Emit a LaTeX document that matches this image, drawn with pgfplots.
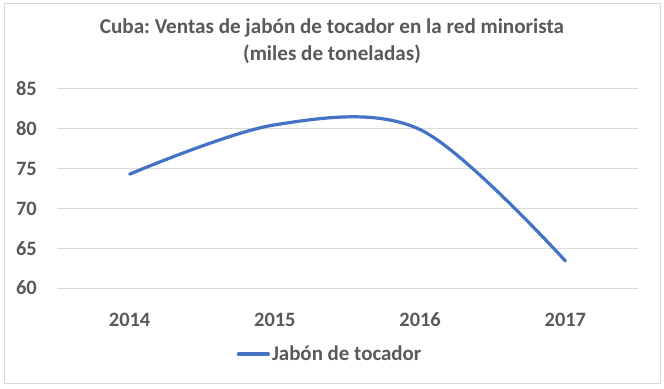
\documentclass[border=0pt]{standalone}
\usepackage{pgfplots}
\pgfplotsset{compat=1.18}
\usepackage{fontspec}
\setmainfont{Carlito}
\frenchspacing
\definecolor{txt}{HTML}{595959}
\definecolor{ser}{HTML}{4472C4}
\definecolor{gridc}{HTML}{D9D9D9}
\begin{document}
\begin{tikzpicture}
\path[use as bounding box] (0bp,0bp) rectangle (664bp,389bp);
\draw[gridc, line width=0.75bp] (4bp,6bp) rectangle (660bp,386bp);
\node[font=\fontsize{21.2}{27}\selectfont\bfseries, text=txt, align=center] at (332bp,347.5bp)
  {Cuba: Ventas de jabón de tocador en la red minorista\\(miles de toneladas)};
\begin{axis}[
  at={(57bp,101bp)}, anchor=south west,
  scale only axis, width=581bp, height=199bp,
  xmin=-0.5, xmax=3.5, ymin=60, ymax=85,
  ytick={60,65,...,85},
  xtick={0,1,2,3}, xticklabels={2014,2015,2016,2017},
  axis line style={draw=none},
  tick style={draw=none},
  ymajorgrids, grid style={gridc, line width=1bp},
  /pgf/number format/assume math mode=true,
  ticklabel style={font=\fontsize{20.5}{22}\selectfont\bfseries, text=txt, inner sep=0pt},
  xticklabel style={anchor=center, yshift=-32bp},
  yticklabel style={anchor=east, xshift=-20bp},
  legend style={at={(0.47,-0.332)}, anchor=center, draw=none, fill=none,
    font=\fontsize{21}{22}\selectfont\bfseries, text=txt},
  legend image code/.code={\draw[#1, line cap=round] (0bp,0bp) -- (30bp,0bp);},
]
\addplot[ser, line width=3.2bp, smooth, tension=0.55, line cap=round] coordinates {
  (0,74.3) (1,80.5) (2,79.9) (3,63.4)
};
\addlegendentry{Jabón de tocador}
\end{axis}
\end{tikzpicture}
\end{document}
